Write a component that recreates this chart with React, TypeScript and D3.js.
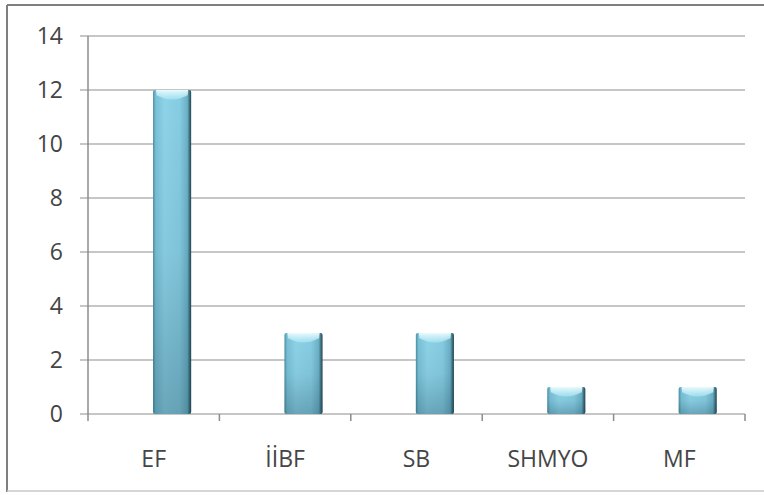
import React from "react";
import * as d3 from "d3";

const categories = ["EF", "İİBF", "SB", "SHMYO", "MF"];
const values = [12, 3, 3, 1, 1];
const yTicks = [0, 2, 4, 6, 8, 10, 12, 14];

const W = 764;
const H = 495;
const plotLeft = 88;
const plotRight = 745;
const plotTop = 36;
const plotBottom = 414;

export default function App() {
  const x = d3.scaleBand<string>().domain(categories).range([plotLeft, plotRight]).paddingInner(0).paddingOuter(0);
  const y = d3.scaleLinear().domain([0, 14]).range([plotBottom, plotTop]);
  const bw = x.bandwidth();
  const barW = bw * 0.29;
  const barShift = bw * 0.14;
  const font = "'Open Sans', 'Liberation Sans', sans-serif";
  const textColor = "#454545";

  return (
    <svg
      width={W}
      height={H}
      style={{ position: "fixed", left: 0, top: 0, display: "block", background: "#fff" }}
    >
      <defs>
        <linearGradient id="barH" x1="0" y1="0" x2="1" y2="0">
          <stop offset="0" stopColor="#4d8ea2" />
          <stop offset="0.07" stopColor="#79c1d7" />
          <stop offset="0.3" stopColor="#8ed3e8" />
          <stop offset="0.7" stopColor="#86cce2" />
          <stop offset="0.9" stopColor="#6cb1c6" />
          <stop offset="0.95" stopColor="#42788a" />
          <stop offset="1" stopColor="#25454f" />
        </linearGradient>
        <linearGradient id="barV" x1="0" y1="0" x2="0" y2="1">
          <stop offset="0" stopColor="#0e3444" stopOpacity="0" />
          <stop offset="0.5" stopColor="#0e3444" stopOpacity="0.06" />
          <stop offset="1" stopColor="#0e3444" stopOpacity="0.28" />
        </linearGradient>
        <linearGradient id="cap" x1="0" y1="0" x2="0" y2="1">
          <stop offset="0" stopColor="#effdff" stopOpacity="0.95" />
          <stop offset="1" stopColor="#b6ecf8" stopOpacity="0.55" />
        </linearGradient>
      </defs>

      {/* outer border */}
      <line x1={7} x2={7} y1={5} y2={492} stroke="#7f7f7f" strokeWidth={2} />
      <line x1={7} x2={W} y1={5} y2={5} stroke="#7f7f7f" strokeWidth={2} />
      <line x1={7} x2={W} y1={491} y2={491} stroke="#c8c8c8" strokeWidth={1.5} />

      {/* gridlines */}
      {yTicks.map((t) => (
        <line
          key={"g" + t}
          x1={plotLeft - 8}
          x2={plotRight}
          y1={y(t)}
          y2={y(t)}
          stroke="#b3b3b3"
          strokeWidth={1.5}
        />
      ))}

      {/* y axis */}
      <line x1={plotLeft} x2={plotLeft} y1={plotTop} y2={plotBottom + 7} stroke="#8c8c8c" strokeWidth={1.5} />

      {/* x tick marks */}
      {categories.map((c) => (
        <line
          key={"t" + c}
          x1={(x(c) as number) + bw}
          x2={(x(c) as number) + bw}
          y1={plotBottom}
          y2={plotBottom + 7}
          stroke="#8c8c8c"
          strokeWidth={1.5}
        />
      ))}

      {/* bars */}
      {categories.map((c, i) => {
        const cx = (x(c) as number) + bw / 2 + barShift;
        const x0 = cx - barW / 2;
        const yTop = y(values[i]);
        const h = plotBottom - yTop;
        const capH = Math.min(13, h * 0.5);
        return (
          <g key={"b" + c}>
            <rect x={x0} y={yTop} width={barW} height={h} rx={2} fill="url(#barH)" />
            <rect x={x0} y={yTop} width={barW} height={h} rx={2} fill="url(#barV)" />
            <path
              d={`M${x0 + 3},${yTop} L${x0 + barW - 3},${yTop} L${x0 + barW - 3.5},${yTop + capH * 0.4} Q${cx},${yTop + capH * 1.05} ${x0 + 3.5},${yTop + capH * 0.4} Z`}
              fill="url(#cap)"
            />
          </g>
        );
      })}

      {/* y labels */}
      {yTicks.map((t) => (
        <text
          key={"yl" + t}
          x={63}
          y={y(t)}
          dy="0.36em"
          textAnchor="end"
          fontFamily={font}
          fontSize={23}
          fill={textColor}
        >
          {t}
        </text>
      ))}

      {/* x labels */}
      {categories.map((c) => (
        <text
          key={"xl" + c}
          x={(x(c) as number) + bw / 2}
          y={467}
          textAnchor="middle"
          fontFamily={font}
          fontSize={23}
          fill={textColor}
        >
          {c}
        </text>
      ))}
    </svg>
  );
}
